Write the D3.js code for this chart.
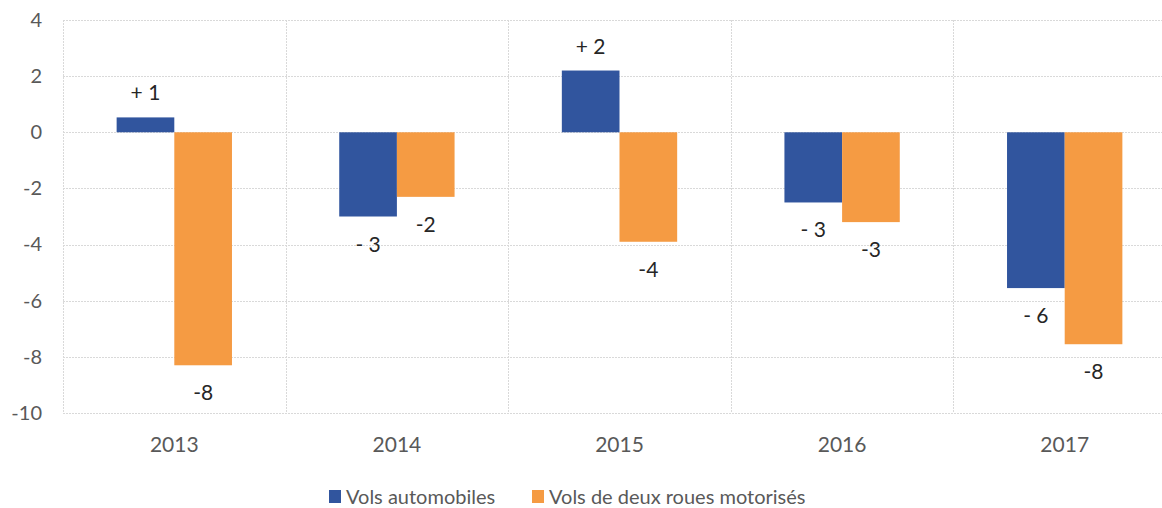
<!DOCTYPE html>
<html>
<head>
<meta charset="utf-8">
<script src="https://cdn.jsdelivr.net/npm/d3@7"></script>
<style>
  body { margin: 0; background: #fff; }
  text { font-family: Lato, "Open Sans", sans-serif; }
  .grid line { stroke: #d9d9d9; stroke-dasharray: 2,1; }
</style>
</head>
<body>
<div id="chart"></div>
<script>
// data
var years = ["2013", "2014", "2015", "2016", "2017"];
var seriesNames = ["Vols automobiles", "Vols de deux roues motorisés"];
var autoValues = [0.53, -3.0, 2.2, -2.5, -5.55];
var motoValues = [-8.3, -2.3, -3.9, -3.2, -7.55];
var autoLabels = ["+ 1", "- 3", "+ 2", "- 3", "- 6"];
var motoLabels = ["-8", "-2", "-4", "-3", "-8"];
var yTicks = [-10, -8, -6, -4, -2, 0, 2, 4];

var colors = ["#31559E", "#F59B43"];

var svgWidth = 1162;
var svgHeight = 508;
var margin = { top: 20, right: -14, bottom: 95, left: 63 };

var width = svgWidth - margin.left - margin.right;
var height = svgHeight - margin.top - margin.bottom;

var svg = d3.select("#chart")
    .append("svg")
    .attr("width", svgWidth)
    .attr("height", svgHeight);

var chartGroup = svg.append("g")
    .attr("transform", `translate(${margin.left}, ${margin.top})`);

// scales
var x0 = d3.scaleBand()
    .domain(years)
    .range([0, width])
    .padding(0);

var x1 = d3.scaleBand()
    .domain([0, 1])
    .range([0, x0.bandwidth()])
    .paddingInner(0)
    .paddingOuter(0.93);

var y = d3.scaleLinear()
    .domain([-10, 4])
    .range([height, 0]);

// horizontal gridlines
chartGroup.append("g")
    .attr("class", "grid")
    .selectAll("line")
    .data(yTicks)
    .enter()
    .append("line")
    .attr("x1", 0)
    .attr("x2", width)
    .attr("y1", d => Math.round(y(d)) + 0.5)
    .attr("y2", d => Math.round(y(d)) + 0.5);

// vertical gridlines at category edges
var edges = years.map(d => x0(d)).concat([width]);
chartGroup.append("g")
    .attr("class", "grid")
    .selectAll("line")
    .data(edges)
    .enter()
    .append("line")
    .attr("x1", d => Math.round(d) + 0.5)
    .attr("x2", d => Math.round(d) + 0.5)
    .attr("y1", 0)
    .attr("y2", height);

// y axis labels (plain hyphen like the original)
var leftAxis = d3.axisLeft(y)
    .tickValues(yTicks)
    .tickFormat(d => String(d))
    .tickSize(0)
    .tickPadding(21);
var yAxis = chartGroup.append("g").call(leftAxis);
yAxis.select(".domain").remove();
yAxis.selectAll("text")
    .style("font-size", "20px")
    .style("font-family", "Lato, sans-serif")
    .attr("fill", "#595959");

// x axis labels
var bottomAxis = d3.axisBottom(x0).tickSize(0).tickPadding(24);
var xAxis = chartGroup.append("g")
    .attr("transform", `translate(0, ${height})`)
    .call(bottomAxis);
xAxis.select(".domain").remove();
xAxis.selectAll("text")
    .style("font-size", "21px")
    .style("font-family", "Lato, sans-serif")
    .attr("fill", "#595959");

// bars
var allSeries = [autoValues, motoValues];
var allLabels = [autoLabels, motoLabels];

allSeries.forEach(function(values, s) {
    chartGroup.append("g").selectAll("rect")
        .data(values)
        .enter()
        .append("rect")
        .attr("x", (d, i) => x0(years[i]) + x1(s))
        .attr("y", d => y(Math.max(0, d)))
        .attr("width", x1.bandwidth())
        .attr("height", d => Math.abs(y(d) - y(0)))
        .attr("fill", colors[s]);

    chartGroup.append("g").selectAll("text")
        .data(values)
        .enter()
        .append("text")
        .text((d, i) => allLabels[s][i])
        .attr("x", (d, i) => x0(years[i]) + x1(s) + x1.bandwidth() / 2)
        .attr("y", d => d >= 0 ? y(d) - 17 : y(d) + 35)
        .attr("text-anchor", "middle")
        .attr("fill", "#262626")
        .style("font-size", "21px");
});

// legend
var legend = svg.append("g")
    .attr("transform", "translate(329, 490)");
var legendX = [0, 203];
seriesNames.forEach(function(name, s) {
    var item = legend.append("g").attr("transform", `translate(${legendX[s]}, 0)`);
    item.append("rect")
        .attr("width", 12)
        .attr("height", 13)
        .attr("fill", colors[s]);
    item.append("text")
        .attr("x", 17)
        .attr("y", 14)
        .attr("fill", "#595959")
        .style("font-size", "20px")
        .text(name);
});
</script>
</body>
</html>
